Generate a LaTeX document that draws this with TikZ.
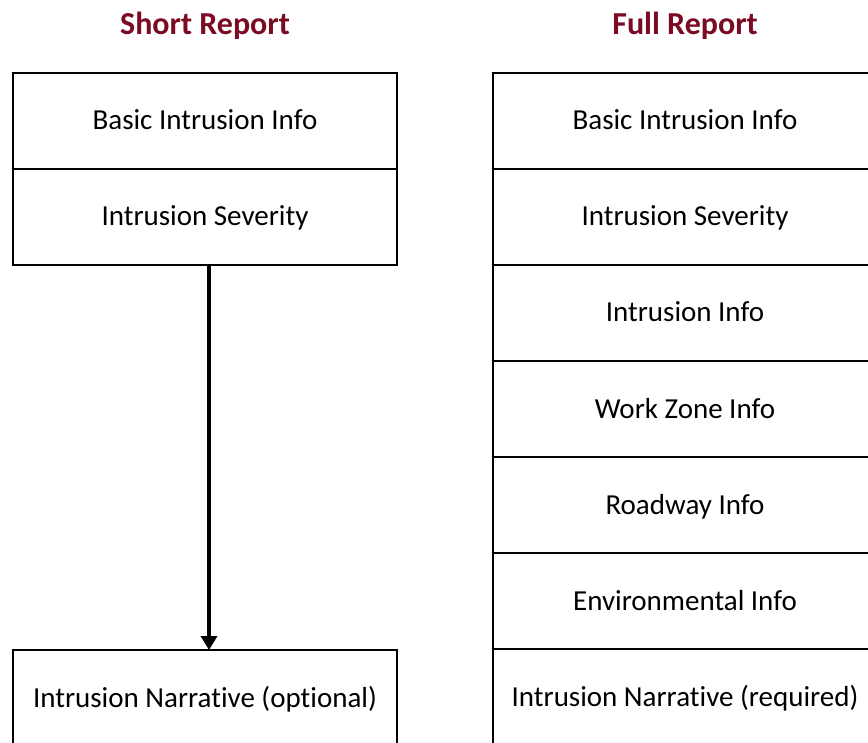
\documentclass[tikz,border=0pt]{standalone}
\usepackage{fontspec}
\setmainfont[Ligatures=NoCommon]{Carlito}
\usepackage{tikz}
\usetikzlibrary{positioning, arrows.meta}
\definecolor{reportred}{HTML}{7B0A23}

\tikzset{
    section/.style={draw, line width=2pt, minimum width=384pt, minimum height=96pt,
        outer sep=0pt, inner sep=0pt, text height=24pt, text depth=6pt,
        font=\fontsize{29}{34}\selectfont},
    heading/.style={anchor=base, text=reportred, font=\fontsize{32}{38}\selectfont\bfseries}
}

\begin{document}
\begin{tikzpicture}[x=1pt, y=1pt]
    % Page frame
    \useasboundingbox (0,0) rectangle (868,-743);

    % Titles
    \node[heading] (ShortTitle) at (205,-35) {Short Report};
    \node[heading] (FullTitle) at (685,-35) {Full Report};

    % Short report
    \node[section] (SBasic) at (205,-121) {Basic Intrusion Info};
    \node[section, below=0pt of SBasic] (SSeverity) {Intrusion Severity};
    \node[section] (SNarrative) at (205,-698) {Intrusion Narrative (optional)};

    % Full report
    \node[section] (FBasic) at (685,-121) {Basic Intrusion Info};
    \node[section, below=0pt of FBasic] (FSeverity) {Intrusion Severity};
    \node[section, below=0pt of FSeverity] (FInfo) {Intrusion Info};
    \node[section, below=0pt of FInfo] (FWorkZone) {Work Zone Info};
    \node[section, below=0pt of FWorkZone] (FRoadway) {Roadway Info};
    \node[section, below=0pt of FRoadway] (FEnviron) {Environmental Info};
    \node[section, below=0pt of FEnviron] (FNarrative) {Intrusion Narrative (required)};

    % Skip to the narrative
    \draw[line width=4.5pt, -{Triangle[length=14pt, width=16pt]}]
        ([xshift=4pt]SSeverity.south) -- ([xshift=4pt]SNarrative.north);
\end{tikzpicture}
\end{document}
